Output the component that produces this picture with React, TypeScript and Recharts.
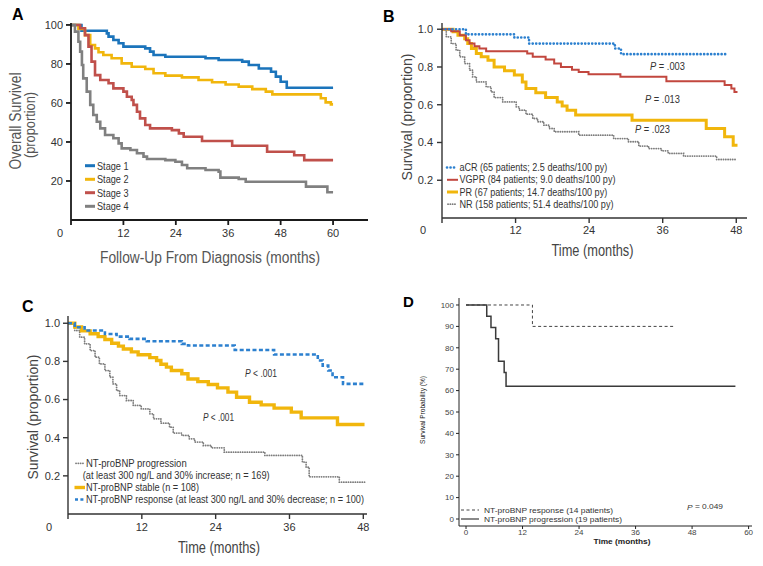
import React from 'react';
import { LineChart, Line, XAxis, YAxis } from 'recharts';

// ---------- Panel A: overall survival by stage ----------
const aStage1T = [0, 2.4, 8.2, 8.6, 9.7, 10.9, 12.0, 17.0, 18.1, 18.9, 21.6, 30.8, 33.8, 39.2, 40.7, 43.0, 45.8, 46.9, 48.0, 49.4, 60];
const aStage1S = [100, 97, 95.7, 94, 92.3, 90.6, 88.9, 88, 86.3, 84.6, 83.7, 82.9, 82, 81.2, 79.5, 77.7, 76, 73.5, 70.9, 67.8, 67.8];
const aStage2T = [0, 1.7, 3.2, 4.4, 5.5, 6.3, 7.4, 9.3, 11.6, 13.9, 17.0, 18.9, 21.6, 25.4, 29.2, 32.3, 35.4, 38.4, 41.5, 44.6, 46.1, 57.2, 58.3, 59.5, 60];
const aStage2S = [100, 97.9, 94.8, 89.7, 88, 86, 84.6, 82.9, 80.3, 78.6, 77.4, 75.2, 74, 73.1, 71.8, 70.6, 69.5, 68.4, 67.1, 65.8, 64.4, 62.4, 60.3, 59.3, 59.3];
const aStage3T = [0, 2.1, 3.2, 4.0, 4.7, 5.5, 6.7, 8.6, 9.7, 12.0, 12.8, 13.9, 14.3, 15.1, 15.8, 17.0, 18.1, 23.1, 24.7, 25.8, 30.0, 36.9, 44.9, 51.1, 53.4, 60];
const aStage3S = [100, 98.3, 94.8, 88.9, 81.2, 74.3, 71.8, 70.1, 67.5, 65.8, 63.2, 61.5, 59, 55.5, 52.1, 48.7, 47, 46.1, 44.4, 42.7, 40.5, 38.1, 35, 33.2, 30.7, 30.7];
const aStage4T = [0, 0.9, 1.7, 2.1, 2.5, 2.8, 3.6, 4.4, 5.1, 5.9, 6.7, 7.8, 9.7, 10.9, 11.6, 13.6, 15.1, 16.6, 17.4, 21.6, 23.9, 25.4, 26.6, 30.8, 33.8, 34.2, 38.4, 40.0, 53.8, 58.7, 60];
const aStage4S = [100, 96.6, 91.4, 86.3, 79.5, 72.6, 65.8, 59, 53.8, 50.4, 47, 43.6, 41.9, 39.3, 36.7, 35.9, 34.2, 32.5, 31.3, 30.7, 29.9, 28.2, 26.5, 25.6, 24.8, 21.7, 21, 19.6, 17.1, 14.2, 14.2];
const aLegend = ['Stage 1', 'Stage 2', 'Stage 3', 'Stage 4'];
const aXTicks = [0, 12, 24, 36, 48, 60];
const aYTicks = [20, 40, 60, 80, 100];

// ---------- Panel B: survival by hematologic response ----------
const bACRT = [0, 3.9, 11.8, 14.2, 28.2, 29.2, 46.5];
const bACRS = [1, 0.973, 0.956, 0.924, 0.898, 0.868, 0.868];
const bVGPRT = [0, 1.5, 2.9, 3.9, 4.5, 5.3, 6.1, 7.2, 13.9, 14.8, 16.9, 18.3, 19.4, 21.2, 22.3, 23.9, 29.1, 36.6, 46.1, 47.2, 47.7, 48.2];
const bVGPRS = [1, 0.989, 0.968, 0.942, 0.924, 0.91, 0.898, 0.884, 0.871, 0.854, 0.84, 0.818, 0.8, 0.786, 0.774, 0.762, 0.748, 0.725, 0.704, 0.686, 0.668, 0.668];
const bPRT = [0, 1.8, 2.6, 3.7, 4.2, 4.8, 5.6, 6.4, 7.5, 8.5, 10.2, 11.8, 13.1, 13.7, 15.3, 16.9, 18.8, 19.6, 20.4, 21.8, 31.0, 43.1, 46.1, 47.5, 48.2];
const bPRS = [1, 0.986, 0.968, 0.95, 0.924, 0.898, 0.871, 0.854, 0.836, 0.8, 0.78, 0.757, 0.721, 0.686, 0.663, 0.638, 0.615, 0.593, 0.571, 0.545, 0.518, 0.474, 0.43, 0.386, 0.386];
const bNRT = [0, 0.7, 1.5, 2.3, 2.9, 3.7, 4.5, 5.0, 5.6, 7.2, 8.0, 8.5, 9.9, 12.1, 12.6, 13.7, 14.8, 15.6, 16.6, 17.5, 18.3, 22.3, 28.0, 30.4, 32.1, 33.7, 35.8, 36.9, 39.4, 44.8, 48.0];
const bNRS = [1, 0.96, 0.924, 0.889, 0.854, 0.818, 0.783, 0.748, 0.721, 0.695, 0.668, 0.638, 0.615, 0.589, 0.571, 0.55, 0.527, 0.51, 0.492, 0.474, 0.457, 0.439, 0.421, 0.404, 0.381, 0.368, 0.356, 0.342, 0.328, 0.31, 0.31];
const bLegend = [
  'aCR (65 patients; 2.5 deaths/100 py)',
  'VGPR (84 patients; 9.0 deaths/100 py)',
  'PR (67 patients; 14.7 deaths/100 py)',
  'NR (158 patients; 51.4 deaths/100 py)',
];
const bPValues = ['.003', '.013', '.023'];
const bXTicks = [0, 12, 24, 36, 48];
const bYTicks = [0.2, 0.4, 0.6, 0.8, 1.0];

// ---------- Panel C: survival by NT-proBNP response ----------
const cRespT = [0, 1.1, 2.7, 6.0, 7.9, 10.0, 12.8, 18.5, 19.5, 27.1, 33.5, 40.6, 41.4, 42.3, 43.0, 44.7, 48.2];
const cRespS = [1, 0.979, 0.962, 0.944, 0.93, 0.918, 0.906, 0.892, 0.883, 0.86, 0.836, 0.805, 0.778, 0.752, 0.717, 0.682, 0.682];
const cStableT = [0, 1.1, 2.2, 3.6, 4.9, 6.0, 7.1, 8.2, 9.0, 10.3, 11.4, 13.3, 14.4, 15.1, 16.0, 16.8, 18.5, 19.5, 21.1, 22.8, 24.3, 26.0, 27.4, 29.5, 31.4, 33.5, 36.3, 37.9, 43.8, 48.2];
const cStableS = [1, 0.98, 0.96, 0.945, 0.93, 0.915, 0.895, 0.88, 0.865, 0.85, 0.835, 0.82, 0.805, 0.785, 0.77, 0.752, 0.735, 0.708, 0.694, 0.679, 0.661, 0.639, 0.612, 0.586, 0.572, 0.555, 0.534, 0.504, 0.469, 0.469];
const cProgT = [0, 1.1, 1.9, 2.7, 3.6, 4.4, 5.1, 6.0, 6.8, 7.3, 7.9, 8.4, 9.5, 10.6, 11.9, 13.3, 13.9, 15.1, 16.5, 17.1, 18.5, 19.7, 20.6, 22.0, 23.3, 25.4, 32.0, 38.1, 38.7, 39.2, 44.1, 48.2];
const cProgS = [1, 0.962, 0.927, 0.892, 0.857, 0.822, 0.787, 0.752, 0.717, 0.682, 0.647, 0.621, 0.595, 0.569, 0.551, 0.525, 0.499, 0.476, 0.455, 0.424, 0.412, 0.394, 0.377, 0.359, 0.347, 0.324, 0.307, 0.272, 0.245, 0.195, 0.167, 0.167];
const cLegend = [
  'NT-proBNP progression',
  '(at least 300 ng/L and 30% increase; n = 169)',
  'NT-proBNP stable (n = 108)',
  'NT-proBNP response (at least 300 ng/L and 30% decrease; n = 100)',
];
const cXTicks = [0, 12, 24, 36, 48];
const cYTicks = [0.2, 0.4, 0.6, 0.8, 1.0];

// ---------- Panel D: small cohort ----------
const dRespT = [0, 14.1, 44.0];
const dRespS = [100, 90, 90];
const dProgT = [0, 4.4, 5.3, 6.3, 6.9, 8.1, 8.5, 57.2];
const dProgS = [100, 94.7, 89.5, 84.2, 73.7, 68.4, 62, 62];
const dLegend = ['NT-proBNP response (14 patients)', 'NT-proBNP progression (19 patients)'];
const dXTicks = [0, 12, 24, 36, 48, 60];
const dYTicks = [0, 10, 20, 30, 40, 50, 60, 70, 80, 90, 100];

const zip = (t: number[], s: number[]) => t.map((x, i) => ({ t: x, s: s[i] }));

const FONT = "'Liberation Sans', Arial, Helvetica, sans-serif";

const BLUE = '#1b74bb';
const YELLOW = '#f1b60c';
const RED = '#c0504b';
const GRAY = '#808080';
const BLUE2 = '#2c80cf';
const RED2 = '#c2473f';
const GRAY2 = '#7c7c7c';

const xTick = (zeroShift: number, fontSize: number, fill: string) => (props: any) => {
  const { x, y, payload } = props;
  const v = payload.value;
  return (
    <text x={x + (v === 0 ? zeroShift : 0)} y={y} dy="0.71em" textAnchor="middle" fontSize={fontSize} fill={fill} fontFamily={FONT}>
      {v}
    </text>
  );
};

const abs = (left: number, top: number): React.CSSProperties => ({ position: 'absolute', left, top });

const T = (p: {
  x: number; y: number; len?: number; size: number; children: React.ReactNode; fill?: string; anchor?: 'start' | 'middle' | 'end';
  weight?: string; rotate?: boolean;
}) => {
  const common: any = {
    fontFamily: FONT,
    fontSize: p.size,
    fill: p.fill || '#333',
    fontWeight: p.weight || 'normal',
    textAnchor: p.anchor || 'start',
    dominantBaseline: 'central',
  };
  if (p.len) {
    common.textLength = p.len;
    common.lengthAdjust = 'spacingAndGlyphs';
  }
  if (p.rotate) {
    return (
      <text transform={`translate(${p.x},${p.y}) rotate(-90)`} {...common}>
        {p.children}
      </text>
    );
  }
  return (
    <text x={p.x} y={p.y} {...common}>
      {p.children}
    </text>
  );
};

export default function App() {
  const tickStyleA = { fontSize: 11, fill: '#333', fontFamily: FONT };
  const axisA = { stroke: '#1a1a1a', strokeWidth: 1.8 };
  const axisB = { stroke: '#333', strokeWidth: 1.4 };
  const axisD = { stroke: '#222', strokeWidth: 1 };

  const aRows = [165.7, 179.3, 192.7, 206.3];
  const aColors = [BLUE, YELLOW, RED, GRAY];
  const aLens = [31.5, 31.5, 31.5, 31.5];

  const bRows = [167.5, 179.8, 192, 204.2];
  const bLens = [147.7, 156, 147.7, 154];

  const cRows = [463.3, 475.5, 487.5, 499.5];

  return (
    <div style={{ position: 'absolute', left: 0, top: 0, width: 763, height: 566, background: '#fff', overflow: 'hidden' }}>
      {/* Panel A */}
      <div style={abs(0, 0)}>
        <LineChart width={380} height={260} margin={{ top: 23, right: 12, bottom: 0, left: 0 }}>
          <XAxis dataKey="t" type="number" domain={[0, 68]} allowDataOverflow ticks={aXTicks} interval={0}
            height={40} tickSize={5} tickMargin={4} axisLine={axisA} tickLine={axisA} tick={xTick(-11, 11, '#333')} />
          <YAxis type="number" domain={[0, 101]} allowDataOverflow ticks={aYTicks} interval={0} width={71}
            tickSize={5} tickMargin={3} axisLine={axisA} tickLine={axisA} tick={tickStyleA} />
          <Line data={zip(aStage1T, aStage1S)} dataKey="s" type="stepAfter" stroke={BLUE} strokeWidth={2.6} dot={false} activeDot={false} isAnimationActive={false} />
          <Line data={zip(aStage2T, aStage2S)} dataKey="s" type="stepAfter" stroke={YELLOW} strokeWidth={2.6} dot={false} activeDot={false} isAnimationActive={false} />
          <Line data={zip(aStage3T, aStage3S)} dataKey="s" type="stepAfter" stroke={RED} strokeWidth={2.6} dot={false} activeDot={false} isAnimationActive={false} />
          <Line data={zip(aStage4T, aStage4S)} dataKey="s" type="stepAfter" stroke={GRAY} strokeWidth={2.6} dot={false} activeDot={false} isAnimationActive={false} />
        </LineChart>
      </div>

      {/* Panel B */}
      <div style={abs(380, 0)}>
        <LineChart width={383} height={260} margin={{ top: 23, right: 16, bottom: 0, left: 0 }}>
          <XAxis dataKey="t" type="number" domain={[0, 49.75]} allowDataOverflow ticks={bXTicks} interval={0}
            height={42} tickSize={5} tickMargin={3} axisLine={axisB} tickLine={axisB} tick={xTick(-19, 11, '#333')} />
          <YAxis type="number" domain={[0, 1.033]} allowDataOverflow ticks={bYTicks} interval={0} width={62}
            tickSize={5} tickMargin={4} axisLine={axisB} tickLine={axisB} tick={tickStyleA}
            tickFormatter={(v: number) => v.toFixed(1)} />
          <Line data={zip(bNRT, bNRS)} dataKey="s" type="stepAfter" stroke={GRAY2} strokeWidth={1.8} strokeDasharray="0.1 2.2" strokeLinecap="round" dot={false} activeDot={false} isAnimationActive={false} />
          <Line data={zip(bPRT, bPRS)} dataKey="s" type="stepAfter" stroke={YELLOW} strokeWidth={3} dot={false} activeDot={false} isAnimationActive={false} />
          <Line data={zip(bVGPRT, bVGPRS)} dataKey="s" type="stepAfter" stroke={RED2} strokeWidth={2} dot={false} activeDot={false} isAnimationActive={false} />
          <Line data={zip(bACRT, bACRS)} dataKey="s" type="stepAfter" stroke={BLUE2} strokeWidth={2.6} strokeDasharray="0.1 3.4" strokeLinecap="round" dot={false} activeDot={false} isAnimationActive={false} />
        </LineChart>
      </div>

      {/* Panel C */}
      <div style={abs(0, 280)}>
        <LineChart width={380} height={286} margin={{ top: 36, right: 13, bottom: 0, left: 0 }}>
          <XAxis dataKey="t" type="number" domain={[0, 48.6]} allowDataOverflow ticks={cXTicks} interval={0}
            height={52} tickSize={5} tickMargin={4} axisLine={axisB} tickLine={axisB} tick={xTick(-19, 11, '#333')} />
          <YAxis type="number" domain={[0, 1.038]} allowDataOverflow ticks={cYTicks} interval={0} width={68}
            tickSize={5} tickMargin={3} axisLine={axisB} tickLine={axisB} tick={tickStyleA}
            tickFormatter={(v: number) => v.toFixed(1)} />
          <Line data={zip(cProgT, cProgS)} dataKey="s" type="stepAfter" stroke={GRAY2} strokeWidth={1.8} strokeDasharray="0.1 2.2" strokeLinecap="round" dot={false} activeDot={false} isAnimationActive={false} />
          <Line data={zip(cStableT, cStableS)} dataKey="s" type="stepAfter" stroke={YELLOW} strokeWidth={3.4} dot={false} activeDot={false} isAnimationActive={false} />
          <Line data={zip(cRespT, cRespS)} dataKey="s" type="stepAfter" stroke={BLUE2} strokeWidth={2.6} strokeDasharray="4 2.4" dot={false} activeDot={false} isAnimationActive={false} />
        </LineChart>
      </div>

      {/* Panel D */}
      <div style={abs(380, 280)}>
        <LineChart width={383} height={286} margin={{ top: 18, right: 11, bottom: 0, left: 0 }}>
          <XAxis dataKey="t" type="number" domain={[-1.49, 60.72]} allowDataOverflow ticks={dXTicks} interval={0}
            height={40} tickSize={3} tickMargin={0} axisLine={axisD} tickLine={axisD} tick={xTick(0, 8, '#444')} />
          <YAxis type="number" domain={[-3.27, 103.27]} allowDataOverflow ticks={dYTicks} interval={0} width={79}
            tickSize={3} tickMargin={2} axisLine={axisD} tickLine={axisD} tick={{ fontSize: 8, fill: '#444', fontFamily: FONT }} />
          <Line data={zip(dRespT, dRespS)} dataKey="s" type="stepAfter" stroke="#444" strokeWidth={1} strokeDasharray="3 2.5" dot={false} activeDot={false} isAnimationActive={false} />
          <Line data={zip(dProgT, dProgS)} dataKey="s" type="stepAfter" stroke="#3a3a3a" strokeWidth={1.5} dot={false} activeDot={false} isAnimationActive={false} />
        </LineChart>
      </div>

      {/* Annotations overlay */}
      <svg width={763} height={566} style={{ position: 'absolute', left: 0, top: 0, pointerEvents: 'none' }}>
        {/* Panel letters */}
        <text x={12} y={20} fontFamily={FONT} fontWeight="bold" fontSize={16} fill="#000">A</text>
        <text x={383} y={22} fontFamily={FONT} fontWeight="bold" fontSize={16} fill="#000">B</text>
        <text x={22} y={312} fontFamily={FONT} fontWeight="bold" fontSize={16} fill="#000">C</text>
        <text x={403} y={307} fontFamily={FONT} fontWeight="bold" fontSize={15} fill="#000">D</text>

        {/* Panel A titles */}
        <T x={15.5} y={121} len={97} size={16} fill="#555" anchor="middle" rotate>Overall Survivel</T>
        <T x={29} y={125} len={66} size={15} fill="#555" anchor="middle" rotate>(proportion)</T>
        <T x={210} y={257} len={220} size={16} fill="#555" anchor="middle">Follow-Up From Diagnosis (months)</T>
        {aLegend.map((l, i) => (
          <g key={l}>
            <line x1={85} x2={95} y1={aRows[i]} y2={aRows[i]} stroke={aColors[i]} strokeWidth={3} />
            <T x={97} y={aRows[i]} len={aLens[i]} size={11.5} fill="#333">{l}</T>
          </g>
        ))}

        {/* Panel B titles */}
        <T x={406} y={117} len={127} size={15} fill="#444" anchor="middle" rotate>Survival (proportion)</T>
        <T x={592.5} y={250.7} len={82} size={16} fill="#444" anchor="middle">Time (months)</T>
        {[{ x: 650, y: 65.7 }, { x: 645, y: 99 }, { x: 635, y: 129 }].map((p, i) => (
          <text key={i} x={p.x} y={p.y} fontFamily={FONT} fontSize={10.5} fill="#333" dominantBaseline="central" textLength={35} lengthAdjust="spacingAndGlyphs">
            <tspan fontStyle="italic">P</tspan> = {bPValues[i]}
          </text>
        ))}
        <line x1={447} x2={457.5} y1={bRows[0]} y2={bRows[0]} stroke={BLUE2} strokeWidth={2.6} strokeDasharray="0.1 3.4" strokeLinecap="round" />
        <line x1={447} x2={458} y1={bRows[1]} y2={bRows[1]} stroke={RED2} strokeWidth={2} />
        <line x1={447} x2={458} y1={bRows[2]} y2={bRows[2]} stroke={YELLOW} strokeWidth={3} />
        <line x1={448} x2={457} y1={bRows[3]} y2={bRows[3]} stroke={GRAY2} strokeWidth={1.8} strokeDasharray="0.1 2.2" strokeLinecap="round" />
        {bLegend.map((l, i) => (
          <T key={l} x={459.5} y={bRows[i]} len={bLens[i]} size={10} fill="#333">{l}</T>
        ))}

        {/* Panel C titles */}
        <T x={32} y={417} len={125} size={15} fill="#444" anchor="middle" rotate>Survival (proportion)</T>
        <T x={219} y={547.7} len={82} size={16} fill="#444" anchor="middle">Time (months)</T>
        {[{ x: 245, y: 373, len: 32 }, { x: 203, y: 416.7, len: 31 }].map((p, i) => (
          <text key={i} x={p.x} y={p.y} fontFamily={FONT} fontSize={10.5} fill="#333" dominantBaseline="central" textLength={p.len} lengthAdjust="spacingAndGlyphs">
            <tspan fontStyle="italic">P</tspan> {'< .001'}
          </text>
        ))}
        <line x1={76} x2={85} y1={cRows[0]} y2={cRows[0]} stroke={GRAY2} strokeWidth={1.8} strokeDasharray="0.1 2.2" strokeLinecap="round" />
        <line x1={74.5} x2={85} y1={cRows[2]} y2={cRows[2]} stroke={YELLOW} strokeWidth={3.4} />
        <line x1={75} x2={85.5} y1={cRows[3]} y2={cRows[3]} stroke={BLUE2} strokeWidth={2.4} strokeDasharray="3 2.4" />
        <T x={86} y={cRows[0]} len={100.7} size={10} fill="#333">{cLegend[0]}</T>
        <T x={82.7} y={cRows[1]} len={187} size={10} fill="#333">{cLegend[1]}</T>
        <T x={86} y={cRows[2]} len={113} size={10} fill="#333">{cLegend[2]}</T>
        <T x={86} y={cRows[3]} len={278} size={10} fill="#333">{cLegend[3]}</T>

        {/* Panel D titles */}
        <T x={422.7} y={410} len={68} size={7.5} fill="#222" anchor="middle" rotate>Survival Probability (%)</T>
        <T x={622} y={541.7} len={57} size={8} fill="#222" anchor="middle" weight="bold">Time (months)</T>
        <line x1={461} x2={479} y1={510} y2={510} stroke="#444" strokeWidth={1} strokeDasharray="3 2.5" />
        <line x1={461} x2={479} y1={519} y2={519} stroke="#3a3a3a" strokeWidth={1.2} />
        <T x={484} y={510} len={129} size={8} fill="#333">{dLegend[0]}</T>
        <T x={484} y={519} len={138} size={8} fill="#333">{dLegend[1]}</T>
        <text x={687} y={506.7} fontFamily={FONT} fontSize={8} fill="#333" dominantBaseline="central" textLength={36} lengthAdjust="spacingAndGlyphs">
          <tspan fontStyle="italic">P</tspan> = 0.049
        </text>
      </svg>
    </div>
  );
}
